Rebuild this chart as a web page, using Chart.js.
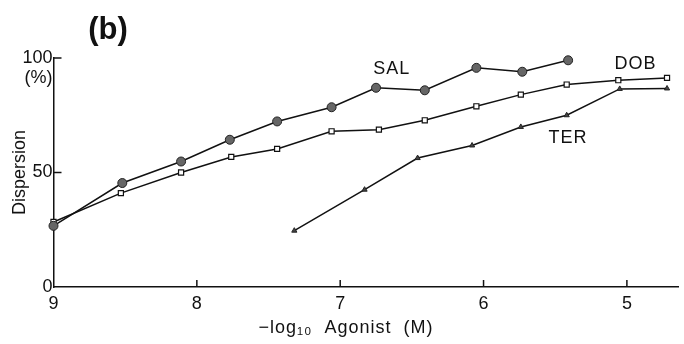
<!DOCTYPE html>
<html>
<head>
<meta charset="utf-8">
<script src="https://cdn.jsdelivr.net/npm/chart.js@4"></script>
<style>
html,body{margin:0;padding:0;background:#fff;}
#c{display:block;}
</style>
</head>
<body>
<canvas id="c" width="684" height="344"></canvas>
<script>
// ---- data ----
const salX = [9.00, 8.52, 8.11, 7.77, 7.44, 7.06, 6.75, 6.41, 6.05, 5.73, 5.41];
const salY = [26.7, 45.4, 54.8, 64.3, 72.3, 78.5, 87.0, 85.9, 95.7, 94.0, 99.0];
const dobX = [9.00, 8.53, 8.11, 7.76, 7.44, 7.06, 6.73, 6.41, 6.05, 5.74, 5.42, 5.06, 4.72];
const dobY = [28.4, 41.0, 50.0, 56.8, 60.3, 68.0, 68.7, 72.8, 78.9, 84.0, 88.4, 90.3, 91.3];
const terX = [7.32, 6.83, 6.46, 6.08, 5.74, 5.42, 5.05, 4.72];
const terY = [24.6, 42.5, 56.3, 61.8, 69.9, 75.0, 86.5, 86.7];
const xTicks = [9, 8, 7, 6, 5];
const yTicks = [0, 50, 100];
const seriesLabels = [
  {text: 'SAL', x: 6.64, y: 95.0},
  {text: 'DOB', x: 4.94, y: 97.2},
  {text: 'TER', x: 5.41, y: 65.2}
];
const panelLabel = '(b)';
const yTitle = 'Dispersion';
const xTitle = '\u2212log\u2081\u2080  Agonist  (M)';
const yUnit = '(%)';

const pts = (xs, ys) => xs.map((x, i) => ({x: x, y: ys[i]}));
const FONT = "'Liberation Sans', Arial, Helvetica, sans-serif";

const decor = {
  id: 'decor',
  afterDraw(chart) {
    const ctx = chart.ctx;
    const xs = chart.scales.x, ys = chart.scales.y;
    const a = chart.chartArea;
    ctx.save();
    ctx.strokeStyle = '#111';
    ctx.lineWidth = 1.5;
    // inward ticks
    xTicks.forEach(v => {
      const px = xs.getPixelForValue(v);
      if (v === 9) return;
      ctx.beginPath(); ctx.moveTo(px, a.bottom); ctx.lineTo(px, a.bottom - 7); ctx.stroke();
    });
    yTicks.forEach(v => {
      const py = ys.getPixelForValue(v);
      if (v === 0) return;
      ctx.beginPath(); ctx.moveTo(a.left, py); ctx.lineTo(a.left + 8, py); ctx.stroke();
    });
    ctx.fillStyle = '#111';
    // unit under 100
    ctx.font = '18px ' + FONT;
    ctx.textAlign = 'right';
    ctx.textBaseline = 'middle';
    ctx.fillText(yUnit, a.left - 1, ys.getPixelForValue(100) + 20);
    // series labels
    ctx.textAlign = 'center';
    ctx.font = '18px ' + FONT;
    try { ctx.letterSpacing = '1px'; } catch (e) {}
    seriesLabels.forEach(l => {
      ctx.fillText(l.text, xs.getPixelForValue(l.x), ys.getPixelForValue(l.y));
    });
    // x axis title
    ctx.font = '18px ' + FONT;
    ctx.fillText(xTitle, 346, 328);
    try { ctx.letterSpacing = '0px'; } catch (e) {}
    // panel label
    ctx.font = 'bold 31px ' + FONT;
    ctx.textAlign = 'center';
    ctx.fillText(panelLabel, 108, 30);
    ctx.restore();
  }
};

new Chart(document.getElementById('c'), {
  type: 'line',
  data: {
    datasets: [
      {label: 'SAL', data: pts(salX, salY), borderColor: '#111', borderWidth: 1.5, clip: false,
       pointStyle: 'circle', pointRadius: 4.5, pointBackgroundColor: '#666', pointBorderColor: '#222', pointBorderWidth: 1},
      {label: 'DOB', data: pts(dobX, dobY), borderColor: '#111', borderWidth: 1.5, clip: false,
       pointStyle: 'rect', pointRadius: 3.6, pointBackgroundColor: '#fff', pointBorderColor: '#111', pointBorderWidth: 1.2},
      {label: 'TER', data: pts(terX, terY), borderColor: '#111', borderWidth: 1.5, clip: false,
       pointStyle: 'triangle', pointRadius: 3, pointBackgroundColor: '#444', pointBorderColor: '#222', pointBorderWidth: 1}
    ]
  },
  options: {
    responsive: false,
    animation: false,
    devicePixelRatio: 1,
    layout: {padding: {left: 0, right: 4, top: 58, bottom: 0}},
    plugins: {legend: {display: false}, tooltip: {enabled: false}, title: {display: false}},
    elements: {line: {tension: 0}},
    scales: {
      x: {
        type: 'linear', reverse: true, min: 4.64, max: 9,
        afterBuildTicks: s => { s.ticks = xTicks.map(v => ({value: v})); },
        afterFit: s => { s.height = 57; },
        grid: {display: false, drawTicks: false},
        border: {display: true, color: '#111', width: 1.5},
        ticks: {color: '#111', font: {family: FONT, size: 18}, padding: 6, maxRotation: 0, autoSkip: false},
        title: {display: false}
      },
      y: {
        type: 'linear', min: 0, max: 100,
        afterBuildTicks: s => { s.ticks = yTicks.map(v => ({value: v})); },
        afterFit: s => { s.width = 53.5; },
        grid: {display: false, drawTicks: false},
        border: {display: true, color: '#111', width: 1.5},
        ticks: {color: '#111', font: {family: FONT, size: 18}, padding: 1},
        title: {display: true, text: yTitle, color: '#111', font: {family: FONT, size: 18}, padding: {top: 9, bottom: 0}}
      }
    }
  },
  plugins: [decor]
});
</script>
</body>
</html>
